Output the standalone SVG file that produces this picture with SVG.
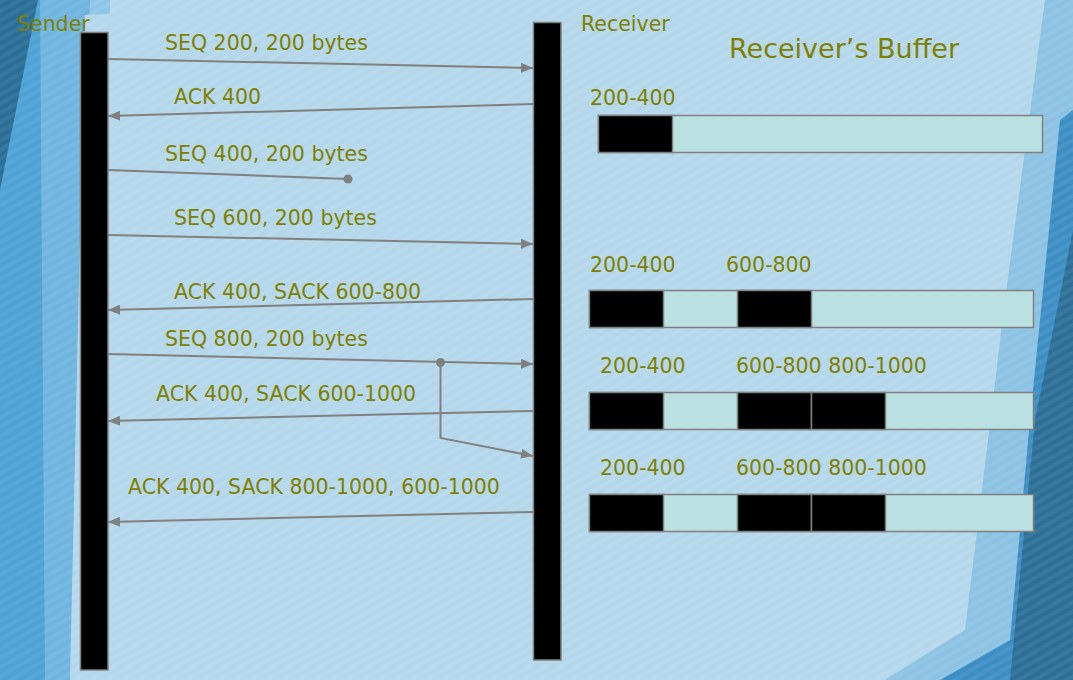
<svg xmlns="http://www.w3.org/2000/svg" width="1073" height="680" viewBox="0 0 1073 680">
<style>
  .t{font-family:"DejaVu Sans","Liberation Sans",sans-serif;font-size:20.5px;fill:#808000}
  .big{font-size:27px}
  .bar{fill:#000;stroke:#808080;stroke-width:1.5}
  .buf{fill:#bae0e2;stroke:#808080;stroke-width:1.5}
  .blk{fill:#000;stroke:#808080;stroke-width:1.5}
  .c{stroke:#808080;stroke-width:2;fill:none}
  .dot{fill:#808080}
</style>
<defs>
  <marker id="ah" markerUnits="userSpaceOnUse" markerWidth="12" markerHeight="10" viewBox="0 0 12 10" refX="12" refY="5" orient="auto">
    <path d="M0,0 L12,5 L0,10 Z" fill="#808080"/>
  </marker>
  <pattern id="stripes" patternUnits="userSpaceOnUse" width="8" height="8" patternTransform="rotate(60)">
    <rect width="4" height="8" fill="#ffffff" opacity="0.06"/>
  </pattern>
</defs>
<g id="background">
  <rect width="1073" height="680" fill="#b5d7eb"/>
  <polygon points="0,0 90,0 70,680 0,680" fill="#4da2d6"/>
  <polygon points="40,0 110,0 95,680 45,680" fill="#7fbde2" opacity="0.7"/>
  <polygon points="0,0 38,0 0,190" fill="#2b6e98"/>
  <polygon points="85,15 420,0 1073,0 1073,60 1040,660 900,680 70,680" fill="#b5d7eb"/>
  <polygon points="1045,0 1073,0 1073,680 885,680 965,630 1005,300" fill="#8cc2e3"/>
  <polygon points="1060,120 1073,110 1073,680 940,680 1010,640 1030,420" fill="#3d8ec4"/>
  <polygon points="1073,230 1073,680 1010,680 1035,420" fill="#2d6f96"/>
  <rect width="1073" height="680" fill="url(#stripes)"/>
</g>
<g id="sender">
  <rect class="bar" x="80.5" y="32.5" width="27.5" height="637.5"/>
  <text class="t" x="17" y="31">Sender</text>
</g>
<g id="receiver">
  <rect class="bar" x="533.5" y="22.5" width="27.5" height="637.5"/>
  <text class="t" x="581" y="31">Receiver</text>
</g>
<g id="connectors">
  <line class="c" x1="108" y1="59" x2="533" y2="68" marker-end="url(#ah)"/>
  <line class="c" x1="533" y1="104" x2="108" y2="116" marker-end="url(#ah)"/>
  <line class="c" x1="108" y1="170" x2="348" y2="179"/>
  <circle class="dot" cx="348" cy="179" r="4.5"/>
  <line class="c" x1="108" y1="235" x2="533" y2="244" marker-end="url(#ah)"/>
  <line class="c" x1="533" y1="299" x2="108" y2="310" marker-end="url(#ah)"/>
  <line class="c" x1="108" y1="354" x2="533" y2="364" marker-end="url(#ah)"/>
  <circle class="dot" cx="440.5" cy="362.5" r="4.5"/>
  <polyline class="c" points="440.5,362.5 440.5,438 533,456" marker-end="url(#ah)"/>
  <line class="c" x1="533" y1="411" x2="108" y2="421" marker-end="url(#ah)"/>
  <line class="c" x1="533" y1="512" x2="108" y2="522" marker-end="url(#ah)"/>
</g>
<g id="connector-labels">
  <text class="t" x="165" y="50">SEQ 200, 200 bytes</text>
  <text class="t" x="174" y="104">ACK 400</text>
  <text class="t" x="165" y="161">SEQ 400, 200 bytes</text>
  <text class="t" x="174" y="225">SEQ 600, 200 bytes</text>
  <text class="t" x="174" y="299">ACK 400, SACK 600-800</text>
  <text class="t" x="165" y="346">SEQ 800, 200 bytes</text>
  <text class="t" x="156" y="401">ACK 400, SACK 600-1000</text>
  <text class="t" x="128" y="494">ACK 400, SACK 800-1000, 600-1000</text>
</g>
<g id="buffer-title">
  <text class="t big" x="729" y="58">Receiver’s Buffer</text>
</g>
<g id="buffer-1">
  <text class="t" x="590" y="105">200-400</text>
  <rect class="buf" x="598.5" y="115.5" width="444" height="37"/>
  <rect class="blk" x="598.5" y="115.5" width="74" height="37"/>
</g>
<g id="buffer-2">
  <text class="t" x="590" y="272">200-400</text>
  <text class="t" x="726" y="272">600-800</text>
  <rect class="buf" x="589.5" y="290.5" width="444" height="37"/>
  <rect class="blk" x="589.5" y="290.5" width="74" height="37"/>
  <rect class="blk" x="737.5" y="290.5" width="74" height="37"/>
</g>
<g id="buffer-3">
  <text class="t" x="600" y="373">200-400</text>
  <text class="t" x="736" y="373">600-800 800-1000</text>
  <rect class="buf" x="589.5" y="392.5" width="444" height="37"/>
  <rect class="blk" x="589.5" y="392.5" width="74" height="37"/>
  <rect class="blk" x="737.5" y="392.5" width="74" height="37"/>
  <rect class="blk" x="811.5" y="392.5" width="74" height="37"/>
</g>
<g id="buffer-4">
  <text class="t" x="600" y="475">200-400</text>
  <text class="t" x="736" y="475">600-800 800-1000</text>
  <rect class="buf" x="589.5" y="494.5" width="444" height="37"/>
  <rect class="blk" x="589.5" y="494.5" width="74" height="37"/>
  <rect class="blk" x="737.5" y="494.5" width="74" height="37"/>
  <rect class="blk" x="811.5" y="494.5" width="74" height="37"/>
</g>
</svg>
